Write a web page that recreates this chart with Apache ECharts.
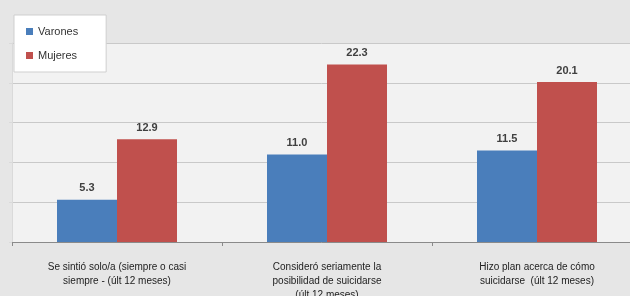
<!DOCTYPE html>
<html>
<head>
<meta charset="utf-8">
<script src="https://cdn.jsdelivr.net/npm/echarts@6/dist/echarts.min.js"></script>
<style>
  html, body { margin: 0; padding: 0; background: #e6e6e6; }
  #chart { width: 630px; height: 296px; }
</style>
</head>
<body>
<div id="chart"></div>
<script>
// datos
const categorias = [
  'Se sintió solo/a (siempre o casi\nsiempre - (últ 12 meses)',
  'Consideró seriamente la\nposibilidad de suicidarse\n(últ 12 meses)',
  'Hizo plan acerca de cómo\nsuicidarse  (últ 12 meses)'
];
const varones = [5.3, 11.0, 11.5];
const mujeres = [12.9, 22.3, 20.1];
const ejeMax = 25;
const ejeIntervalo = 5;

const chart = echarts.init(document.getElementById('chart'));

const etiqueta = {
  show: true,
  position: 'top',
  distance: 6,
  color: '#404040',
  fontFamily: 'Liberation Sans',
  fontSize: 11,
  fontWeight: 'bold',
  formatter: p => p.value.toFixed(1)
};

const option = {
  backgroundColor: '#e6e6e6',
  animation: false,
  legend: {
    orient: 'vertical',
    left: 14,
    top: 15,
    padding: [11, 28, 11, 12],
    itemWidth: 7,
    itemHeight: 7,
    itemGap: 13,
    icon: 'rect',
    backgroundColor: '#ffffff',
    borderColor: '#cfcfcf',
    borderWidth: 1,
    textStyle: { color: '#333', fontFamily: 'Liberation Sans', fontSize: 11 },
    data: ['Varones', 'Mujeres']
  },
  grid: {
    show: true,
    left: 12,
    top: 43,
    width: 630,
    bottom: 54,
    outerBoundsMode: 'none',
    containLabel: false,
    backgroundColor: '#f2f2f2',
    borderWidth: 0
  },
  xAxis: {
    type: 'category',
    data: categorias,
    axisLine: { lineStyle: { color: '#8a8a8a', width: 1 } },
    axisTick: { show: true, length: 4, lineStyle: { color: '#8a8a8a' } },
    axisLabel: {
      color: '#222',
      fontFamily: 'Liberation Sans',
      fontSize: 10,
      lineHeight: 14,
      margin: 18,
      interval: 0
    }
  },
  yAxis: {
    type: 'value',
    min: 0,
    max: ejeMax,
    interval: ejeIntervalo,
    axisLabel: { show: false },
    axisLine: { show: true, lineStyle: { color: '#dadada' } },
    axisTick: { show: true, length: 3, lineStyle: { color: '#dadada' } },
    splitLine: { lineStyle: { color: '#c9c9c9', width: 1 } }
  },
  series: [
    {
      name: 'Varones',
      type: 'bar',
      data: varones,
      barWidth: 60,
      barGap: '0%',
      itemStyle: { color: '#4a7ebb' },
      label: etiqueta
    },
    {
      name: 'Mujeres',
      type: 'bar',
      data: mujeres,
      barWidth: 60,
      barGap: '0%',
      itemStyle: { color: '#c0504d' },
      label: etiqueta
    }
  ]
};

chart.setOption(option);
</script>
</body>
</html>
